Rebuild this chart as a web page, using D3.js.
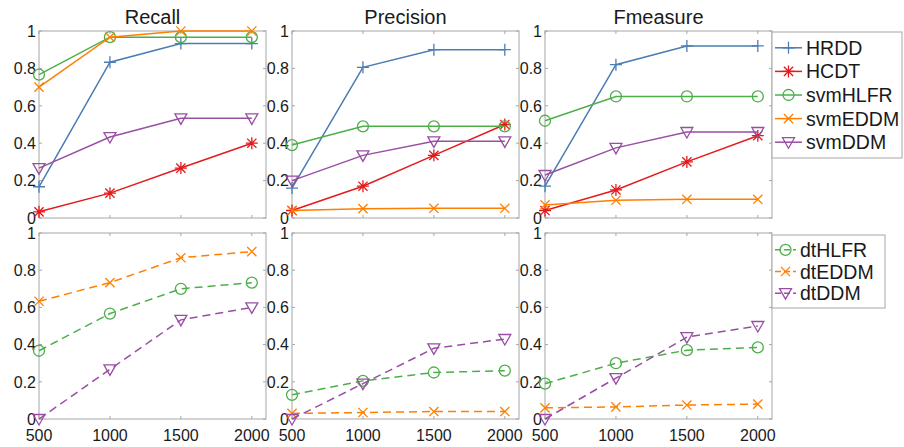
<!DOCTYPE html>
<html>
<head>
<meta charset="utf-8">
<script src="https://cdn.jsdelivr.net/npm/d3@7"></script>
<style>
  body { margin: 0; background: #fff; }
  text { font-family: "Liberation Sans", Arial, sans-serif; fill: #1a1a1a; }
</style>
</head>
<body>
<svg id="chart"></svg>
<script>
// sample sizes on the x axis
const sizes = [500, 1000, 1500, 2000];
const xTicks = [500, 1000, 1500, 2000];
const yTicks = [0, 0.2, 0.4, 0.6, 0.8, 1];
const metrics = ['Recall', 'Precision', 'Fmeasure'];

// top row (svm based + hybrid) series, one value array per metric
const topNames = ['HRDD', 'HCDT', 'svmHLFR', 'svmEDDM', 'svmDDM'];
const HRDD = [[0.167, 0.833, 0.933, 0.933], [0.16, 0.806, 0.9, 0.9], [0.17, 0.82, 0.92, 0.92]];
const HCDT = [[0.033, 0.133, 0.267, 0.4], [0.04, 0.17, 0.335, 0.5], [0.04, 0.15, 0.30, 0.44]];
const svmHLFR = [[0.767, 0.967, 0.967, 0.967], [0.39, 0.49, 0.49, 0.49], [0.52, 0.65, 0.65, 0.65]];
const svmEDDM = [[0.7, 0.967, 1.0, 1.0], [0.04, 0.05, 0.052, 0.052], [0.07, 0.095, 0.1, 0.1]];
const svmDDM = [[0.267, 0.433, 0.533, 0.533], [0.2, 0.335, 0.41, 0.41], [0.23, 0.375, 0.46, 0.46]];

// bottom row (decision tree based) series
const bottomNames = ['dtHLFR', 'dtEDDM', 'dtDDM'];
const dtHLFR = [[0.367, 0.567, 0.7, 0.733], [0.13, 0.205, 0.25, 0.26], [0.19, 0.30, 0.37, 0.385]];
const dtEDDM = [[0.633, 0.733, 0.867, 0.9], [0.03, 0.035, 0.04, 0.04], [0.06, 0.065, 0.075, 0.08]];
const dtDDM = [[0.0, 0.267, 0.533, 0.6], [0.0, 0.19, 0.38, 0.43], [0.0, 0.22, 0.44, 0.50]];

const width = 904;
const height = 447;
const blue = '#4a7db3', red = '#e41a1c', green = '#4daf4a', orange = '#ff7f00', purple = '#984ea3';

const topSeries = [
  { name: 'HRDD', values: HRDD, color: blue, marker: 'plus' },
  { name: 'HCDT', values: HCDT, color: red, marker: 'star' },
  { name: 'svmHLFR', values: svmHLFR, color: green, marker: 'circle' },
  { name: 'svmEDDM', values: svmEDDM, color: orange, marker: 'cross' },
  { name: 'svmDDM', values: svmDDM, color: purple, marker: 'tri' }
];
const bottomSeries = [
  { name: 'dtHLFR', values: dtHLFR, color: green, marker: 'circle' },
  { name: 'dtEDDM', values: dtEDDM, color: orange, marker: 'cross' },
  { name: 'dtDDM', values: dtDDM, color: purple, marker: 'tri' }
];

const svg = d3.select('#chart').attr('width', width).attr('height', height);

const panelLeft = [39, 292, 545];
const panelW = 227;
const rows = [{ top: 31, bottom: 218 }, { top: 233, bottom: 419 }];
const boxColor = '#a6a6a6';

/**
 * path for a marker glyph centred on 0,0
 * @param {string} type marker kind
 * @returns svg path string
 */
function markerPath(type) {
  const s = 6;
  const d = 4.6;
  if (type === 'plus') return `M${-s},0H${s}M0,${-s}V${s}`;
  if (type === 'cross') return `M${-d},${-d}L${d},${d}M${-d},${d}L${d},${-d}`;
  if (type === 'star') return `M${-s},0H${s}M0,${-s}V${s}M${-d},${-d}L${d},${d}M${-d},${d}L${d},${-d}`;
  if (type === 'tri') return `M${-6},${-4.5}H6L0,${6}Z`;
  return d3.arc()({ innerRadius: 0, outerRadius: 5.5, startAngle: 0, endAngle: 2 * Math.PI });
}

/**
 * draws one axes box with ticks, labels and the series lines
 */
function drawPanel(col, row, series, dashed, showXLabels) {
  const left = panelLeft[col];
  const { top, bottom } = rows[row];
  const xScale = d3.scaleLinear().domain([500, 2100]).range([left, left + panelW]);
  const yScale = d3.scaleLinear().domain([0, 1]).range([bottom, top]);
  const g = svg.append('g');

  g.append('rect')
    .attr('x', left).attr('y', top)
    .attr('width', panelW).attr('height', bottom - top)
    .attr('fill', 'white')
    .attr('stroke', boxColor)
    .attr('stroke-width', 1);

  // inward tick marks on all four sides
  const tick = 3;
  g.selectAll('.xt')
    .data(xTicks)
    .enter().append('path')
    .attr('d', d => `M${xScale(d)},${bottom}v${-tick}M${xScale(d)},${top}v${tick}`)
    .attr('stroke', boxColor);
  g.selectAll('.yt')
    .data(yTicks)
    .enter().append('path')
    .attr('d', d => `M${left},${yScale(d)}h${tick}M${left + panelW},${yScale(d)}h${-tick}`)
    .attr('stroke', boxColor);

  g.selectAll('.yl')
    .data(yTicks)
    .enter().append('text')
    .attr('x', left - 3)
    .attr('y', d => yScale(d))
    .attr('dy', '0.36em')
    .attr('text-anchor', 'end')
    .style('font-size', '16px')
    .text(d => d3.format('~g')(d));

  if (showXLabels) {
    g.selectAll('.xl')
      .data(xTicks)
      .enter().append('text')
      .attr('x', d => xScale(d))
      .attr('y', bottom + 16)
      .attr('dy', '0.36em')
      .attr('text-anchor', 'middle')
      .style('font-size', '16px')
      .text(d => d);
  }

  const line = d3.line()
    .x((d, i) => xScale(sizes[i]))
    .y(d => yScale(d));

  series.forEach((s) => {
    const vals = s.values[col];
    g.append('path')
      .datum(vals)
      .attr('fill', 'none')
      .attr('stroke', s.color)
      .attr('stroke-width', 1.5)
      .attr('stroke-dasharray', dashed ? '8,5' : null)
      .attr('d', line);
    g.selectAll(null)
      .data(vals)
      .enter().append('path')
      .attr('transform', (d, i) => `translate(${xScale(sizes[i])},${yScale(d)})`)
      .attr('d', markerPath(s.marker))
      .attr('fill', 'none')
      .attr('stroke', s.color)
      .attr('stroke-width', 1.3);
  });
}

/**
 * draws a boxed legend
 */
function drawLegend(series, x, y, w, h, lineLen, dashed) {
  const g = svg.append('g');
  g.append('rect')
    .attr('x', x).attr('y', y).attr('width', w).attr('height', h)
    .attr('fill', 'white').attr('stroke', boxColor);
  const rowH = (h - 8) / series.length;
  series.forEach((s, i) => {
    const cy = y + 4 + rowH * (i + 0.5);
    g.append('line')
      .attr('x1', x + 3).attr('x2', x + 3 + lineLen)
      .attr('y1', cy).attr('y2', cy)
      .attr('stroke', s.color)
      .attr('stroke-width', 1.5)
      .attr('stroke-dasharray', dashed ? '6,3' : null);
    g.append('path')
      .attr('transform', `translate(${x + 3 + lineLen / 2},${cy})`)
      .attr('d', markerPath(s.marker))
      .attr('fill', 'none')
      .attr('stroke', s.color)
      .attr('stroke-width', 1.3);
    g.append('text')
      .attr('x', x + lineLen + 7)
      .attr('y', cy)
      .attr('dy', '0.36em')
      .style('font-size', '19.5px')
      .text(s.name);
  });
}

metrics.forEach((m, c) => {
  drawPanel(c, 1, bottomSeries, true, true);
});
metrics.forEach((m, c) => {
  drawPanel(c, 0, topSeries, false, false);
  svg.append('text')
    .attr('x', panelLeft[c] + panelW / 2)
    .attr('y', 24)
    .attr('text-anchor', 'middle')
    .style('font-size', '20px')
    .text(m);
});

drawLegend(topSeries, 772, 32, 130, 126, 27, false);
drawLegend(bottomSeries, 772, 235, 113, 73, 21, true);
</script>
</body>
</html>
